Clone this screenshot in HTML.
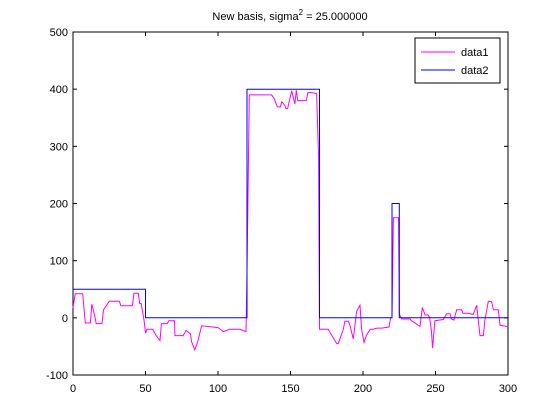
<!DOCTYPE html>
<html><head><meta charset="utf-8"><style>
body{margin:0;background:#fff;}
svg{display:block;font-family:"Liberation Sans",sans-serif;}
</style></head><body>
<svg id="c" width="560" height="420"></svg>
<script>
const xTicks=[0,50,100,150,200,250,300];
const yTicks=[-100,0,100,200,300,400,500];
const d1x=[
0,1.5,6.7,8.5,12,13,15,16,20,21,
25,32,33,41,42,45,46,47,49,50.1,
51,55,57,60,61,65,66,70,70.3,76,
78,81,81.8,84,86,88.7,100,103.7,108,115,
119.3,120,121.6,137,138.6,141,143,144,146,147,
148,150.8,153,154,155,161,162,165,168,169.4,
170,176,178,182,183,186.4,187.5,190,191,193.3,
195.6,197.9,199,200.7,202.5,205,207,209.6,213,218,
219,220,221,224.5,225,226.6,232.4,233.5,239.3,240.9,
242.8,245,246,247.1,248,249.6,255.4,257.7,260,261,
262.7,264.6,268,269,272.6,276,278.4,279.5,280.7,283,
284,286.4,288.7,289.9,293.3,294.5,299,300];
const d1y=[
17,42,42,-9,-9,24,3,-10,-10,14,
29,29,21,21,43,43,25,25,-5,-27,
-20,-20,-30,-40,-10,-10,-5,-5,-31,-31,
-22,-28,-42,-56,-42,-14,-17,-24,-20,-20,
-24,80,390,390,384,369,369,378,372,366,
366,397,374,398,380,380,394,394,392,280,
-20,-20,-29,-45,-45,-20,-6,-6,-14,-37,
11,22,-20,-43,-30,-20,-20,-18,-18,-16,
0,0,175,175,7,-2,-2,-5,-15,18,
5,5,0,-21,-53,-5,-3,7,7,-2,
-4,14,14,8,8,6,22,-5,-31,-31,
-5,29,28,14,14,-13,-15,-15];
const d2x=[0,50,50,120,120,170,170,220,220,225,225,300];
const d2y=[50,50,0,0,400,400,0,0,200,200,0,0];
const L=73,R=508,T=32,B=375;
const sx=v=>L+(v-0)/(300-0)*(R-L);
const sy=v=>B-(v+100)/600*(B-T);
const NS="http://www.w3.org/2000/svg";
const svg=document.getElementById('c');
function mk(t,a,p){const e=document.createElementNS(NS,t);for(const k in a)e.setAttribute(k,a[k]);(p||svg).appendChild(e);return e;}
let e=mk('rect',{x:L,y:T,width:R-L,height:B-T,fill:'#fff',stroke:'#000','stroke-width':1});


xTicks.forEach(v=>{const x=sx(v);
mk('line',{x1:x,y1:B,x2:x,y2:B-4,stroke:'#000'});mk('line',{x1:x,y1:T,x2:x,y2:T+4,stroke:'#000'});
const t=mk('text',{x:x,y:B+17,'font-size':11,'text-anchor':'middle'});t.textContent=v;

});
yTicks.forEach(v=>{const y=sy(v);
mk('line',{x1:L,y1:y,x2:L+4,y2:y,stroke:'#000'});mk('line',{x1:R,y1:y,x2:R-4,y2:y,stroke:'#000'});
const t=mk('text',{x:L-5,y:y+4,'font-size':11,'text-anchor':'end'});t.textContent=v;

});
function pts(xs,ys){const n=Math.min(xs.length,ys.length);return xs.slice(0,n).map((x,i)=>sx(x).toFixed(1)+','+sy(ys[i]).toFixed(1)).join(' ');}
e=mk('polyline',{points:pts(d1x,d1y),fill:'none',stroke:'#ff00ff','stroke-width':1});


e=mk('polyline',{points:pts(d2x,d2y),fill:'none',stroke:'#0000ff','stroke-width':1});


const ti=mk('text',{x:290,y:20,'font-size':11,'text-anchor':'middle'});
ti.innerHTML='New basis, sigma<tspan dy="-5" font-size="8">2</tspan><tspan dy="5"> = 25.000000</tspan>';


const lg=mk('g',{});


mk('rect',{x:415,y:38,width:85,height:45,fill:'#fff',stroke:'#000'},lg);
mk('line',{x1:421,y1:52,x2:455,y2:52,stroke:'#ff00ff'},lg);
mk('line',{x1:421,y1:70,x2:455,y2:70,stroke:'#0000ff'},lg);
let t=mk('text',{x:461,y:56,'font-size':11},lg);t.textContent='data1';


t=mk('text',{x:461,y:74,'font-size':11},lg);t.textContent='data2';


</script>
</body></html>
